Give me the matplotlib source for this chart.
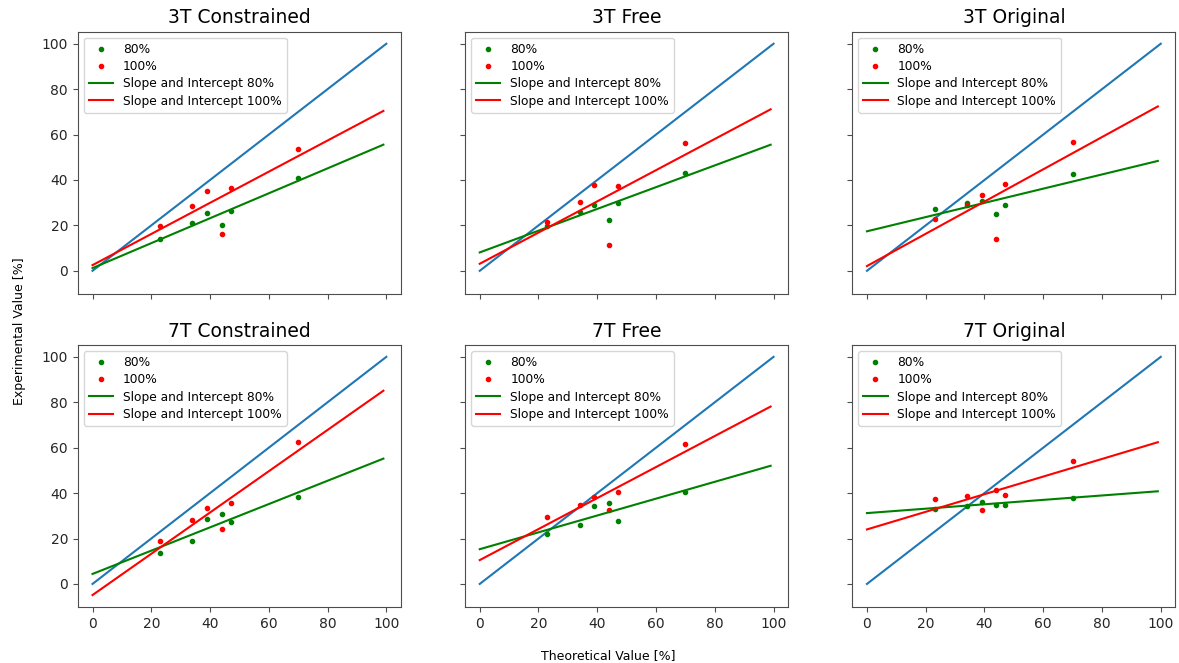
import numpy as np
import matplotlib
matplotlib.use("Agg")
import matplotlib.pyplot as plt

titles = ["3T Constrained", "3T Free", "3T Original",
          "7T Constrained", "7T Free", "7T Original"]
theoretical = [23, 34, 39, 44, 47, 70]

exp80 = [
    [14.0, 20.9, 25.4, 20.2, 26.4, 40.9],
    [19.8, 26.1, 28.8, 22.4, 29.8, 43.2],
    [27.4, 29.8, 30.7, 24.8, 28.8, 42.6],
    [13.8, 19.1, 28.4, 30.6, 27.4, 38.3],
    [21.8, 25.8, 34.3, 35.8, 27.8, 40.4],
    [33.1, 34.5, 35.9, 34.8, 34.8, 38.0],
]
exp100 = [
    [19.6, 28.6, 35.0, 16.1, 36.3, 53.8],
    [21.7, 30.4, 37.6, 11.2, 37.3, 56.2],
    [22.7, 29.1, 33.3, 13.9, 38.3, 56.8],
    [18.9, 28.1, 33.3, 24.2, 35.6, 62.7],
    [29.5, 34.8, 38.1, 32.5, 40.4, 61.7],
    [37.4, 38.7, 32.7, 41.2, 39.0, 54.2],
]
slope80 = [0.549, 0.479, 0.313, 0.513, 0.371, 0.097]
intercept80 = [1.2, 8.1, 17.4, 4.4, 15.3, 31.2]
slope100 = [0.686, 0.687, 0.710, 0.909, 0.683, 0.388]
intercept100 = [2.5, 3.1, 2.1, -4.9, 10.5, 24.0]

plt.rcParams['axes.edgecolor'] = '0.3'
plt.rcParams['xtick.color'] = '0.3'
plt.rcParams['ytick.color'] = '0.3'
plt.rcParams['xtick.labelcolor'] = '0.15'
plt.rcParams['ytick.labelcolor'] = '0.15'

fig, axes = plt.subplots(2, 3, figsize=(11.79, 6.63), dpi=100,
                         sharex=True, sharey=True)
fig.subplots_adjust(left=0.066, right=0.997, top=0.952, bottom=0.0845,
                    wspace=0.198, hspace=0.195)

fit_x = np.arange(100)
ident = np.arange(101)
for i, ax in enumerate(axes.flat):
    ax.plot(ident, ident, color="C0")
    ax.plot(theoretical, exp80[i], "g.", label="80%")
    ax.plot(theoretical, exp100[i], "r.", label="100%")
    ax.plot(fit_x, intercept80[i] + slope80[i] * fit_x, "g-",
            label="Slope and Intercept 80%")
    ax.plot(fit_x, intercept100[i] + slope100[i] * fit_x, "r-",
            label="Slope and Intercept 100%")
    ax.set_title(titles[i], fontsize=13.5)
    ax.legend(loc="upper left", fontsize=8.8, labelspacing=0.35)
    ax.set_xticks([0, 20, 40, 60, 80, 100])
    ax.set_yticks([0, 20, 40, 60, 80, 100])

fig.text(0.516, 0.012, "Theoretical Value [%]", ha="center", va="center", fontsize=9)
fig.text(0.011, 0.5, "Experimental Value [%]", ha="left", va="center",
         rotation=90, fontsize=9)

fig.savefig("out.png", dpi=100)
